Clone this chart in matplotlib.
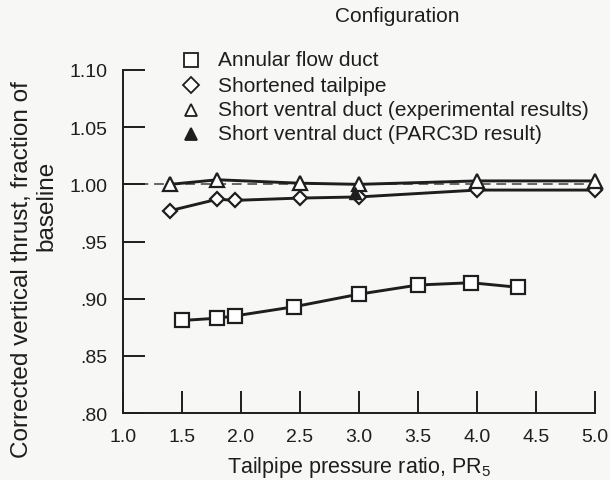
import matplotlib.pyplot as plt
from matplotlib.lines import Line2D

plt.rcParams['font.family'] = ['Liberation Sans', 'DejaVu Sans']
plt.rcParams['mathtext.default'] = 'regular'

# --- data ---
annular_pr = [1.5, 1.8, 1.95, 2.45, 3.0, 3.5, 3.95, 4.35]
annular_thrust = [0.881, 0.883, 0.885, 0.893, 0.904, 0.912, 0.914, 0.910]

tailpipe_pr = [1.4, 1.8, 1.95, 2.5, 3.0, 4.0, 5.0]
tailpipe_thrust = [0.977, 0.987, 0.986, 0.988, 0.989, 0.995, 0.995]

ventral_pr = [1.4, 1.8, 2.5, 3.0, 4.0, 5.0]
ventral_thrust = [1.000, 1.004, 1.001, 1.000, 1.003, 1.003]

parc_pr = [2.97]
parc_thrust = [0.992]

baseline = 1.00

xticks = [1.0, 1.5, 2.0, 2.5, 3.0, 3.5, 4.0, 4.5, 5.0]
yticks = [0.80, 0.85, 0.90, 0.95, 1.00, 1.05, 1.10]
ytick_labels = ['.80', '.85', '.90', '.95', '1.00', '1.05', '1.10']

legend_labels = ['Annular flow duct', 'Shortened tailpipe',
                 'Short ventral duct (experimental results)',
                 'Short ventral duct (PARC3D result)']

bg = '#f7f7f5'
ink = '#1e1e1e'

fig = plt.figure(figsize=(6.1, 4.81), dpi=100, facecolor=bg)
ax = fig.add_axes([0.2016, 0.139, 0.7738, 0.7135], facecolor=bg)

ax.axhline(baseline, color='#666666', lw=1.4, dashes=(5, 3), zorder=1)

ax.plot(annular_pr, annular_thrust, color=ink, lw=2.1, marker='s', ms=9.5,
        mfc='white', mec=ink, mew=1.6, zorder=3, clip_on=False)
ax.plot(tailpipe_pr, tailpipe_thrust, color=ink, lw=2.1, marker='D', ms=7.3,
        mfc='white', mec=ink, mew=1.6, zorder=3, clip_on=False)
ax.plot(ventral_pr, ventral_thrust, color=ink, lw=2.1, marker='^', ms=9.5,
        mfc='white', mec=ink, mew=1.6, zorder=4, clip_on=False)
ax.plot(parc_pr, parc_thrust, ls='none', marker='^', ms=9, color=ink, zorder=5)

ax.set_xlim(1.0, 5.0)
ax.set_ylim(0.80, 1.10)
ax.set_xticks(xticks)
ax.set_xticklabels([f'{v:.1f}' for v in xticks])
ax.set_yticks(yticks)
ax.set_yticklabels(ytick_labels)
ax.tick_params(direction='in', length=16, width=1.4, color=ink,
               labelsize=14, labelcolor=ink, pad=11)
for s in ['top', 'right']:
    ax.spines[s].set_visible(False)
for s in ['left', 'bottom']:
    ax.spines[s].set_linewidth(1.4)
    ax.spines[s].set_color(ink)

ax.set_xlabel('Tailpipe pressure ratio, PR$_5$', fontsize=15.5, color=ink, labelpad=6)

# two-line y label, lines placed separately as in the original
fig.text(22 / 610, 1 - 270 / 481, 'Corrected vertical thrust, fraction of',
         rotation=90, ha='center', va='center', fontsize=17.5, color=ink)
fig.text(46 / 610, 1 - 206 / 481, 'baseline',
         rotation=90, ha='center', va='center', fontsize=17.5, color=ink)

# legend block
fig.text(397 / 610, 1 - 17 / 481, 'Configuration', ha='center', va='center',
         fontsize=15, color=ink)
markers = [dict(marker='s', ms=9.5, mfc='white'),
           dict(marker='D', ms=8, mfc='white'),
           dict(marker='^', ms=9, mfc='white'),
           dict(marker='^', ms=9, mfc=ink)]
rows_y = [61, 86, 111, 135]
for lab, mk, ry in zip(legend_labels, markers, rows_y):
    yf = 1 - ry / 481
    fig.add_artist(Line2D([191 / 610], [yf], ls='none', mec=ink, mew=1.3,
                          transform=fig.transFigure, **mk))
    fig.text(218 / 610, yf, lab, ha='left', va='center', fontsize=15, color=ink)

fig.savefig('out.png', dpi=100, facecolor=bg)
